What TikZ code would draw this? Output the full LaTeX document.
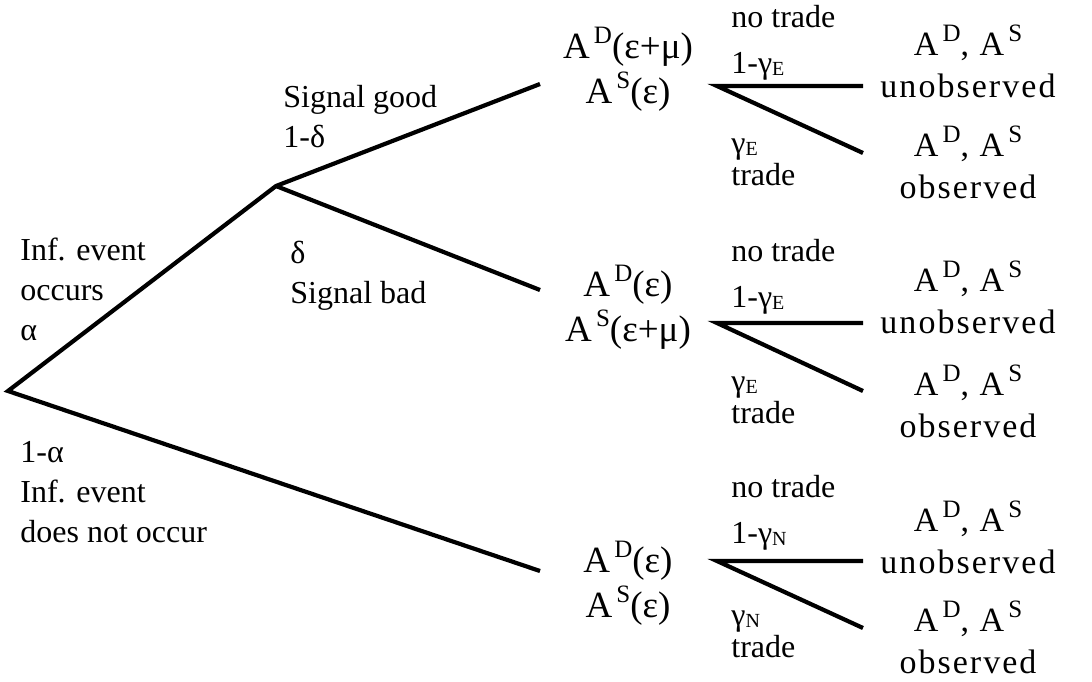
\documentclass[tikz,border=0pt]{standalone}
\usepackage{fontspec}
\setmainfont{Liberation Serif}
\usetikzlibrary{positioning}
\newcommand{\lo}[1]{\raisebox{-0.15ex}{\fontsize{10}{10}\selectfont #1}}
\newcommand{\hi}[1]{\raisebox{0.85ex}{\fontsize{12.5}{12.5}\selectfont\,#1}}

\begin{document}
\begin{tikzpicture}[
    x=0.5pt, y=-0.5pt,
    branch/.style={line width=2.1pt, line join=miter},
    lbl/.style={anchor=base west, align=left, inner sep=0pt,
                font=\fontsize{16}{20}\selectfont},
    notrade/.style={lbl, font=\fontsize{16}{23}\selectfont},
    trade/.style={lbl, font=\fontsize{16}{16}\selectfont},
    state/.style={anchor=base, align=center, inner sep=0pt,
                  font=\fontsize{18.5}{22.5}\selectfont},
    outcome/.style={anchor=base, align=center, inner sep=0pt,
                    font=\fontsize{17}{21}\selectfont\addfontfeature{LetterSpace=6}}
]
\useasboundingbox (0,0) rectangle (1092,681);

% branch points
\coordinate (root)  at (8,391);
\coordinate (inf)   at (276,186);
\coordinate (good)  at (540,84);
\coordinate (bad)   at (540,290);
\coordinate (none)  at (540,571);
\coordinate (goodT) at (717,86);
\coordinate (badT)  at (717,323);
\coordinate (noneT) at (717,561);
\coordinate (goodU) at (863,86);
\coordinate (goodO) at (863,153);
\coordinate (badU)  at (863,323);
\coordinate (badO)  at (863,391);
\coordinate (noneU) at (863,561);
\coordinate (noneO) at (863,628);

% labels on the first branches (placed at the last line)
\node[lbl] (occurs)  at (20,340)  {Inf. event\\occurs\\α};
\node[lbl] (noevent) at (20,542)  {1-α\\Inf. event\\does not occur};
\node[lbl] (sgood)   at (283,147) {Signal good\\1-δ};
\node[lbl] (sbad)    at (290,303) {δ\\Signal bad};

% states
\node[state] (goodS) at (628,103) {A\hi{D}(ε+μ)\\A\hi{S}(ε)};
\node[state] (badS)  at (628,341) {A\hi{D}(ε)\\A\hi{S}(ε+μ)};
\node[state] (noneS) at (628,617) {A\hi{D}(ε)\\A\hi{S}(ε)};

% trade probabilities
\node[notrade] (goodNT) at (731,73)  {no trade\\1-γ\lo{E}};
\node[trade]   (goodTr) at (731,185) {γ\lo{E}\\trade};
\node[notrade] (badNT)  at (731,307) {no trade\\1-γ\lo{E}};
\node[trade]   (badTr)  at (731,423) {γ\lo{E}\\trade};
\node[notrade] (noneNT) at (731,543) {no trade\\1-γ\lo{N}};
\node[trade]   (noneTr) at (731,657) {γ\lo{N}\\trade};

% outcomes
\node[outcome] (goodUn) at (968,97)  {A\hi{D}, A\hi{S}\\unobserved};
\node[outcome] (goodOb) at (968,198) {A\hi{D}, A\hi{S}\\observed};
\node[outcome] (badUn)  at (968,333) {A\hi{D}, A\hi{S}\\unobserved};
\node[outcome] (badOb)  at (968,437) {A\hi{D}, A\hi{S}\\observed};
\node[outcome] (noneUn) at (968,573) {A\hi{D}, A\hi{S}\\unobserved};
\node[outcome] (noneOb) at (968,673) {A\hi{D}, A\hi{S}\\observed};

\draw[branch] (none) -- (root) -- (inf) -- (good);
\draw[branch] (inf) -- (bad);
\draw[branch] (goodU) -- (goodT) -- (goodO);
\draw[branch] (badU)  -- (badT)  -- (badO);
\draw[branch] (noneU) -- (noneT) -- (noneO);
\end{tikzpicture}
\end{document}
